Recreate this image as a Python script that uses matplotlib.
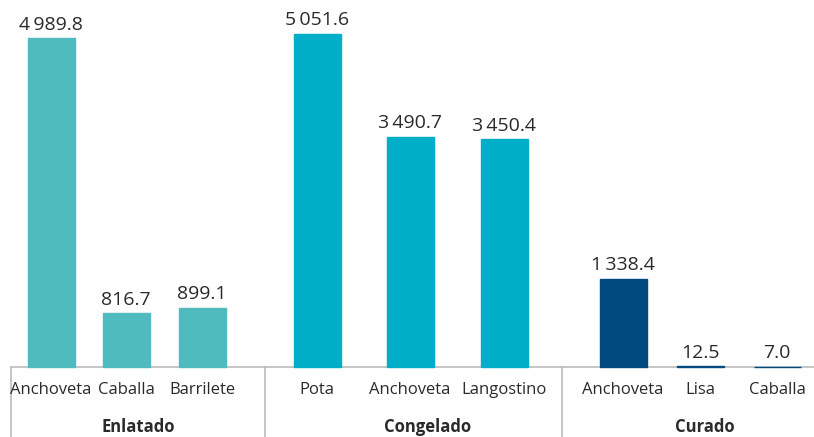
import matplotlib
matplotlib.use("Agg")
import matplotlib.pyplot as plt

plt.rcParams['font.family'] = ['Open Sans', 'DejaVu Sans']

groups = ["Enlatado", "Congelado", "Curado"]
categories = [["Anchoveta", "Caballa", "Barrilete"],
              ["Pota", "Anchoveta", "Langostino"],
              ["Anchoveta", "Lisa", "Caballa"]]
values = [[4989.8, 816.7, 899.1],
          [5051.6, 3490.7, 3450.4],
          [1338.4, 12.5, 7.0]]
colors = ["#4FBBBE", "#00AEC7", "#004A80"]

# layout (pixel-like x positions)
xpos = [[51, 126, 202], [317, 410, 504], [623, 700, 777]]
group_x = [138, 428, 705]
separators = [11, 265, 562]

W, H = 814, 437
base = 367
fig = plt.figure(figsize=(W / 100, H / 100), dpi=100)
ax = fig.add_axes([0, (H - base) / H, 1, base / H])
ax.set_xlim(0, W)
ax.set_ylim(0, base / 0.066)
ax.axis('off')

def fmt(v):
    s = f"{v:,.1f}"
    return s.replace(",", "\u2009")

txt = "#2A2A2A"
for g in range(3):
    for i, (c, v) in enumerate(zip(categories[g], values[g])):
        x = xpos[g][i]
        ax.bar(x, v, width=47, color=colors[g], edgecolor=colors[g], linewidth=1.0,
               zorder=3, clip_on=False)
        ax.annotate(fmt(v), (x, v), xytext=(0, 3), textcoords='offset points',
                    ha='center', va='bottom', fontsize=14, color=txt)
        ax.text(x, (base - 390) / base, c, transform=ax.get_xaxis_transform(),
                ha='center', va='center', fontsize=12, color=txt)
    ax.text(group_x[g], (base - 427) / base, groups[g], transform=ax.get_xaxis_transform(),
            ha='center', va='center', fontsize=12, fontweight='bold', color=txt)

tr = ax.get_xaxis_transform()
ax.plot([separators[0], W], [0, 0], transform=tr, color="#BBBBBB", lw=1.2,
        clip_on=False, zorder=1)
for s in separators:
    ax.plot([s, s], [0, -(H - base) / base], transform=tr, color="#BBBBBB", lw=1.2,
            clip_on=False, zorder=1)

fig.savefig("out.png", dpi=100)
